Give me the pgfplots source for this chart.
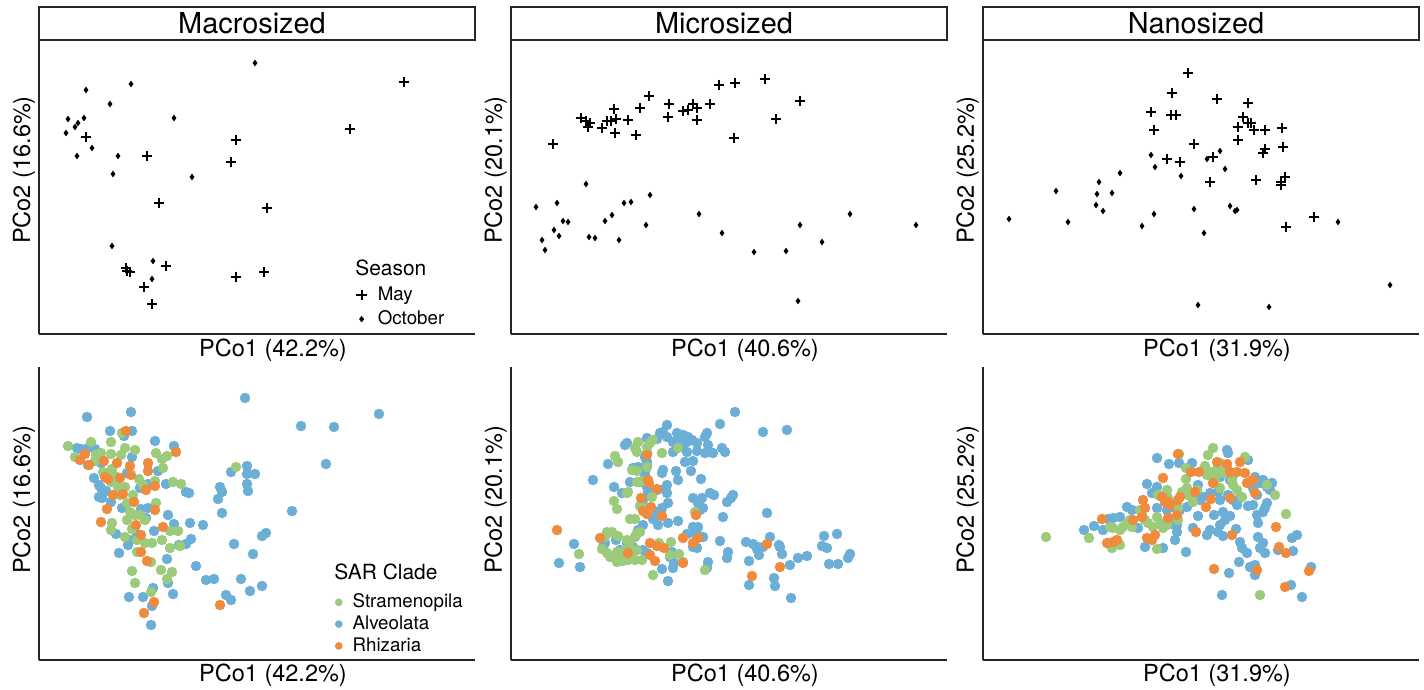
\documentclass[border=0pt]{standalone}
\usepackage{fontspec}
\setmainfont{TeX Gyre Heros}
\usepackage{pgfplots}
\pgfplotsset{compat=1.18}
\definecolor{stram}{HTML}{9CCB7C}
\definecolor{alveo}{HTML}{6BAED6}
\definecolor{rhiz}{HTML}{F08A3C}

% coordinates are read in image pixels (1 px = 0.5bp)
\pgfplotsset{
  panel/.style={scale only axis, width=218bp, anchor=north west,
    axis x line*=bottom, axis y line*=left,
    axis line style={line width=0.7bp, black!85},
    xtick=\empty, ytick=\empty, y dir=reverse, clip=false},
  may/.style={only marks, mark=+, mark size=2.6bp, mark options={line width=1bp}, black},
  oct/.style={only marks, mark=diamond*, mark size=1.3bp, black},
  dot/.style={only marks, mark=*, mark size=2.4bp, color=#1, mark options={draw=none, fill=#1}},
  one mark/.style={legend image code/.code={\draw[##1] plot[only marks] coordinates {(0bp,0bp)};}},
  small mark/.style={legend image code/.code={\draw[##1, mark size=1.7bp] plot[only marks] coordinates {(0bp,0bp)};}},
  leg/.style={legend cell align=left, legend style={draw=none, fill=none, inner sep=0pt,
    font=\fontsize{9.4}{11}\selectfont, row sep=0.6bp, column sep=4bp,
    nodes={inner sep=1.5bp, text height=7bp, text depth=1.5bp}}},
}

\begin{document}
\begin{tikzpicture}
\useasboundingbox (0,0) rectangle (712bp,-345bp);

% ---------- top row: season ----------
\begin{axis}[panel, at={(19.5bp,-20bp)}, height=147bp,
  xmin=39, xmax=475, ymin=40, ymax=334,
  leg, legend style={at={(axis cs:356,283)}, anchor=north west}]
\addplot[may, one mark] table {
x y
404 82
350 129
236 140
231 162
86 137
147 156
159 203
267 208
166 266
126 268
130 272
127 271
144 287
152 304
236 277
264 272
};
\addlegendentry{May}
\addplot[oct, one mark] table {
x y
255 63
131 84
86 90
110 104
174 118
68 119
84 118
78 123
75 127
66 133
92 148
77 156
118 156
113 174
192 177
112 246
153 261
152 279
};
\addlegendentry{October}
\end{axis}

\begin{axis}[panel, at={(255.5bp,-20bp)}, height=147bp,
  xmin=511, xmax=947, ymin=40, ymax=334]
\addplot[may] table {
x y
553 144
581 118
586 121
590 123
588 127
602 128
607 121
611 121
614 109
616 119
615 133
628 120
640 108
649 96
636 135
668 117
669 104
683 111
688 110
693 104
697 108
697 120
710 104
719 85
735 83
734 138
765 79
776 119
800 101
};
\addplot[oct] table {
x y
536 207
586 184
557 203
542 240
545 250
554 230
559 236
563 221
568 222
589 237
595 238
605 221
612 215
619 240
624 203
631 202
650 195
646 225
699 214
722 233
754 252
786 251
800 225
798 301
822 242
850 214
916 225
};
\end{axis}

\begin{axis}[panel, at={(491.5bp,-20bp)}, height=147bp,
  xmin=983, xmax=1419, ymin=40, ymax=334]
\addplot[may] table {
x y
1188 73
1172 93
1151 112
1171 115
1176 115
1154 130
1217 99
1248 103
1243 117
1248 123
1238 127
1251 123
1254 130
1265 130
1282 128
1238 140
1194 144
1265 149
1263 153
1283 147
1167 159
1180 162
1213 157
1210 182
1256 180
1281 182
1285 177
1281 185
1314 217
1286 227
};
\addplot[oct] table {
x y
1151 155
1155 167
1181 176
1207 159
1220 151
1225 169
1120 173
1099 182
1097 194
1112 193
1096 205
1103 211
1056 191
1009 219
1068 222
1142 226
1154 214
1194 209
1204 233
1230 206
1235 211
1237 210
1338 222
1390 285
1198 305
1269 307
};
\end{axis}

% ---------- bottom row: SAR clade ----------
\begin{axis}[panel, at={(19.5bp,-183.5bp)}, height=146.5bp,
  xmin=39, xmax=475, ymin=367, ymax=660,
  leg, legend style={at={(axis cs:335,591)}, anchor=north west, row sep=0bp,
    nodes={inner sep=1.2bp}}]
\addplot[dot=alveo, forget plot] table {
x y
245 398
301 426
334 427
379 414
247 466
231 472
247 474
255 474
326 464
220 487
222 492
218 499
247 484
248 491
222 513
292 511
203 525
262 536
266 533
234 544
253 554
206 580
214 579
241 579
250 591
262 586
226 595
231 600
87 417
131 412
110 431
132 431
124 436
155 441
174 446
77 448
81 449
88 448
95 449
132 457
88 465
101 463
158 471
127 473
94 478
99 485
101 488
106 491
140 488
148 484
166 484
186 492
189 493
99 497
102 498
111 502
122 508
141 509
148 508
146 518
168 515
174 524
190 523
116 534
154 531
130 540
128 545
137 534
191 539
179 545
186 544
119 553
167 559
196 566
168 583
153 588
173 594
129 597
143 597
152 606
151 625
};
\addplot[dot=stram, small mark] table {
x y
68 446
91 442
111 442
75 457
96 455
101 453
95 461
111 454
121 455
125 448
135 450
122 433
156 453
162 459
167 456
163 468
112 469
103 472
106 477
115 476
111 482
118 487
125 487
139 479
143 485
155 481
173 482
181 484
120 495
133 495
127 503
156 503
130 512
135 515
140 515
127 520
145 520
112 523
111 530
132 529
170 531
178 531
125 537
137 540
162 540
145 543
152 543
170 548
180 546
137 552
151 562
161 570
172 572
132 571
135 583
167 579
151 592
236 467
};
\addlegendentry{Stramenopila}
\addlegendimage{dot=alveo, small mark}
\addlegendentry{Alveolata}
\addplot[dot=rhiz, small mark] table {
x y
126 431
85 454
80 460
89 465
104 461
117 463
130 466
148 463
148 471
176 452
105 477
108 479
120 478
131 475
146 490
155 486
123 494
113 495
107 509
134 502
155 510
101 522
136 525
163 527
141 535
141 552
147 561
154 602
144 613
220 605
};
\addlegendentry{Rhizaria}
\end{axis}

\begin{axis}[panel, at={(255.5bp,-183.5bp)}, height=146.5bp,
  xmin=511, xmax=947, ymin=367, ymax=660]
\addplot[dot=alveo] table {
x y
720 424
667 425
660 433
663 432
677 433
683 435
688 437
680 440
687 442
692 440
697 443
673 442
677 448
707 433
705 437
627 443
625 445
647 438
657 439
667 437
683 447
687 452
697 451
705 453
713 453
708 445
722 448
725 452
673 452
647 453
645 457
685 462
693 461
647 462
647 465
645 472
645 475
633 468
638 467
608 464
663 470
662 473
676 471
691 471
593 480
630 482
640 482
678 480
701 479
667 485
647 487
648 492
657 490
665 489
667 493
614 487
622 493
643 500
693 498
702 498
698 503
710 493
714 495
668 503
727 502
662 508
657 512
700 510
703 508
653 519
658 525
668 523
678 521
643 525
693 527
698 527
695 533
697 529
723 517
638 530
635 537
687 534
603 539
605 543
603 547
616 540
720 541
627 543
630 545
633 547
637 550
643 550
647 553
693 547
697 548
703 537
697 537
574 544
620 550
625 553
672 552
670 557
728 552
727 558
674 563
673 568
662 569
708 562
707 568
559 563
580 567
668 581
735 412
763 432
787 430
733 495
731 498
767 513
746 542
753 544
758 547
763 547
757 549
770 537
779 545
780 547
782 554
759 555
749 561
790 565
798 558
807 556
824 536
837 534
822 546
827 548
829 564
838 564
850 554
848 558
774 578
775 586
749 585
791 598
};
\addplot[dot=stram] table {
x y
638 442
635 448
637 452
647 447
650 443
653 440
662 453
678 448
615 456
618 462
647 467
632 470
637 471
637 482
642 481
628 492
627 493
652 497
614 501
617 509
640 506
643 508
647 508
630 519
635 519
695 512
607 532
605 537
608 533
612 532
618 536
635 537
637 533
640 532
602 549
607 553
610 557
617 552
620 555
625 550
630 548
632 553
637 550
617 562
623 561
628 560
635 560
642 560
627 540
630 541
579 554
659 543
671 542
670 555
679 554
683 562
705 570
653 575
};
\addplot[dot=rhiz] table {
x y
557 530
647 455
648 480
649 483
657 489
641 498
651 507
643 511
647 514
662 516
696 515
683 538
698 538
693 543
650 543
657 546
664 548
650 555
655 561
628 553
683 563
600 538
767 544
780 567
752 576
};
\end{axis}

\begin{axis}[panel, at={(491.5bp,-183.5bp)}, height=146.5bp,
  xmin=983, xmax=1419, ymin=367, ymax=660]
\addplot[dot=alveo] table {
x y
1084 530
1094 526
1103 530
1108 519
1113 518
1120 517
1127 507
1132 510
1138 528
1145 547
1163 548
1147 484
1157 458
1169 464
1179 463
1192 463
1152 493
1157 487
1157 508
1167 510
1173 507
1180 510
1187 507
1175 525
1177 532
1175 540
1177 525
1186 552
1193 528
1198 516
1198 485
1200 500
1203 497
1207 535
1210 530
1218 532
1223 536
1220 525
1225 520
1214 515
1223 512
1230 516
1210 493
1218 492
1220 500
1228 495
1233 500
1237 505
1240 498
1228 453
1227 450
1220 477
1230 480
1233 475
1236 529
1240 542
1242 548
1247 553
1248 506
1253 505
1248 460
1255 477
1260 483
1263 480
1267 487
1270 490
1272 483
1253 488
1257 495
1257 515
1258 523
1265 508
1267 503
1263 512
1258 537
1263 543
1260 548
1265 553
1239 562
1250 567
1255 565
1255 575
1229 573
1222 595
1278 550
1292 538
1297 535
1293 551
1291 585
1302 597
1311 567
};
\addplot[dot=stram] table {
x y
1046 537
1089 538
1110 527
1113 528
1120 530
1123 527
1127 523
1130 520
1132 527
1120 545
1112 548
1140 510
1142 515
1145 520
1148 523
1153 527
1157 517
1160 523
1163 528
1167 525
1168 520
1157 549
1158 495
1167 490
1168 498
1178 508
1178 520
1182 492
1187 488
1188 495
1192 498
1197 490
1193 502
1186 479
1179 454
1186 468
1205 466
1208 455
1213 448
1212 472
1215 480
1217 470
1220 463
1222 473
1227 468
1207 475
1213 483
1232 480
1237 490
1242 497
1245 457
1267 485
1275 495
1286 514
1260 595
1233 485
1220 488
};
\addplot[dot=rhiz] table {
x y
1102 519
1107 543
1113 542
1117 540
1133 520
1142 517
1145 508
1143 500
1147 538
1152 540
1155 535
1162 497
1165 502
1168 502
1170 505
1168 518
1177 515
1178 500
1180 497
1163 478
1178 454
1191 472
1199 472
1195 492
1206 507
1211 499
1217 462
1227 464
1230 472
1237 472
1240 462
1245 473
1213 483
1230 498
1247 483
1250 482
1253 480
1255 493
1196 532
1232 535
1276 527
1279 547
1286 553
1257 570
1214 569
1285 587
1309 571
};
\end{axis}

% ---------- strips, axis titles, legend titles (pixel units) ----------
\begin{scope}[x=0.5bp, y=-0.5bp]
\foreach \xa/\xb/\t in {39/475/Macrosized, 511/947/Microsized, 983/1419/Nanosized}{
  \draw[line width=0.7bp, black!85] (\xa,7) rectangle (\xb,40);
  \node[anchor=base, inner sep=0pt, font=\fontsize{14.5}{16}\selectfont] at ({(\xa+\xb)/2-5},33) {\t};
}
\foreach \dx/\a/\b in {0/42.2/16.6, 472/40.6/20.1, 944/31.9/25.2}{
  \node[anchor=base, inner sep=0pt, font=\fontsize{11.8}{14}\selectfont] at (273+\dx,357) {PCo1 (\a\%)};
  \node[anchor=base, inner sep=0pt, font=\fontsize{11.8}{14}\selectfont] at (273+\dx,682) {PCo1 (\a\%)};
  \node[anchor=base, rotate=90, inner sep=0pt, font=\fontsize{11.8}{14}\selectfont] at (30+\dx,170) {PCo2 (\b\%)};
  \node[anchor=base, rotate=90, inner sep=0pt, font=\fontsize{11.8}{14}\selectfont] at (30+\dx,500) {PCo2 (\b\%)};
}
\node[anchor=base west, inner sep=0pt, font=\fontsize{10.5}{12}\selectfont] at (355,276) {Season};
\node[anchor=base west, inner sep=0pt, font=\fontsize{10.5}{12}\selectfont] at (334,580) {SAR Clade};
\end{scope}
\end{tikzpicture}
\end{document}
